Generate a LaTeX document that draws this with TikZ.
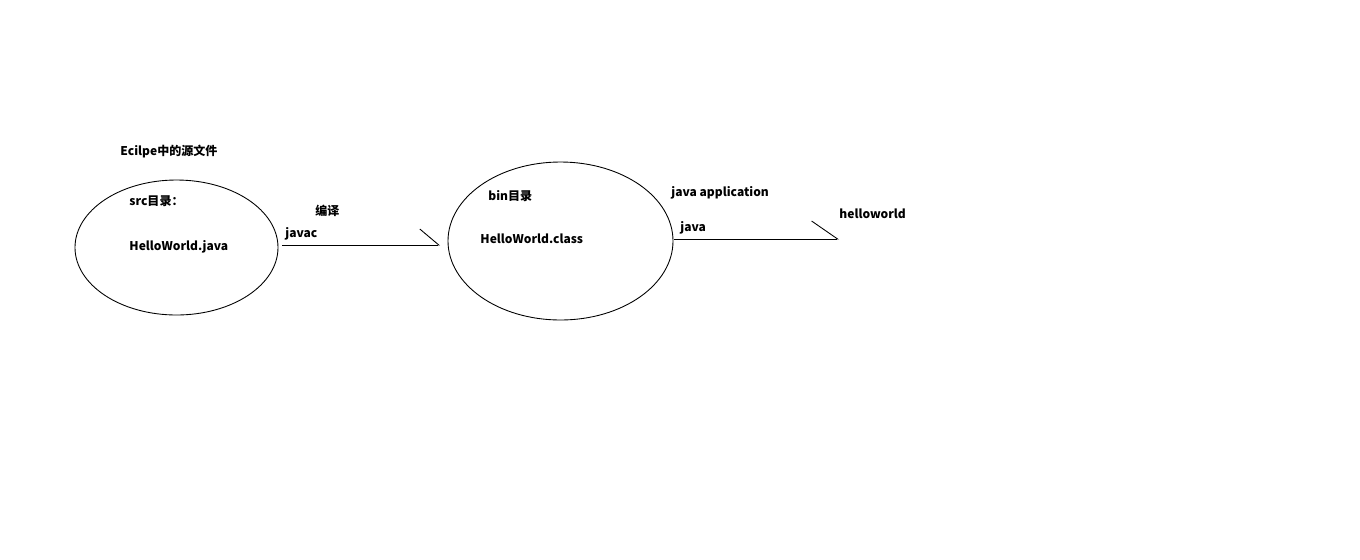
\documentclass[tikz,border=0pt]{standalone}
\usepackage{fontspec}
\setmainfont{Noto Sans CJK SC}
\usetikzlibrary{arrows.meta}
\tikzset{
    lbl/.style={anchor=west,inner sep=0pt,font=\fontsize{6.85}{9}\selectfont\bfseries},
  }
\begin{document}
\begin{tikzpicture}[x=0.02cm,y=-0.02cm,line width=0.5pt]
				  \useasboundingbox (0,0) rectangle (1360,559);
				  
				  %SOURCE
				  \node[lbl] (title) at (120,152) {Ecilpe中的源文件};
				  \draw (176.5,247.5) ellipse [x radius=101.5,y radius=67.5];
				  \node[lbl] (src) at (129,201) {src目录：};
				  \node[lbl] (java) at (129,247) {HelloWorld.java};
				  
				  %BIN
				  \draw (560.5,241) ellipse [x radius=112.5,y radius=79];
				  \node[lbl] (bin) at (488,196) {bin目录};
				  \node[lbl] (class) at (480,239) {HelloWorld.class};
				  
				  %COMPILE
				  \coordinate (c1) at (282,245);
				  \coordinate (c2) at (440,245);
				  \draw[-{Straight Barb[left,length=0.38cm,width=0.64cm]}] (c1) -- (c2);
				  \node[lbl] (bianyi) at (315,211) {编译};
				  \node[lbl] (javac) at (285,234) {javac};
				  
				  %RUN
				  \coordinate (r1) at (674,239);
				  \coordinate (r2) at (839,239);
				  \draw[-{Straight Barb[left,length=0.52cm,width=0.72cm]}] (r1) -- (r2);
				  \node[lbl] (app) at (671,193) {java application};
				  \node[lbl] (run) at (680,228) {java};
				  \node[lbl] (out) at (839,214) {helloworld};
\end{tikzpicture}
\end{document}
